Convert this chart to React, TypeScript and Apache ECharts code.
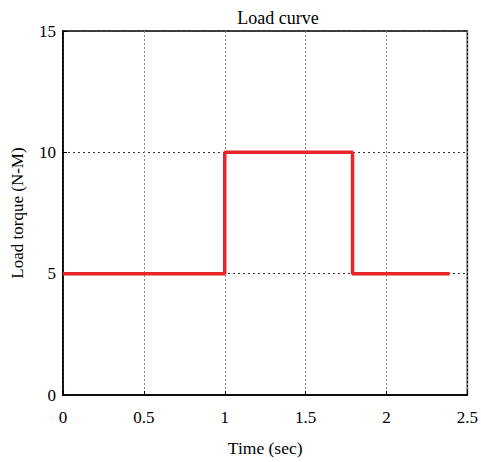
import React, { useEffect, useRef } from "react";
import * as echarts from "echarts";

const timeValues = [0, 1, 1, 1.79, 1.79, 2.39];
const torqueValues = [5, 5, 10, 10, 5, 5];
const titleText = "Load curve";
const xName = "Time (sec)";
const yName = "Load torque (N-M)";

export default function App() {
  const ref = useRef<HTMLDivElement>(null);
  useEffect(() => {
    document.body.style.margin = "0";
    document.body.style.overflow = "hidden";
    if (!ref.current) return;
    const chart = echarts.init(ref.current, undefined, { renderer: "svg" });
    const font = "'Liberation Serif', 'Times New Roman', serif";
    chart.setOption({
      animation: false,
      backgroundColor: "#fff",
      title: {
        text: titleText,
        left: 273,
        top: 4,
        textAlign: "center",
        textStyle: { fontFamily: font, fontSize: 18, fontWeight: "normal", color: "#000" },
      },
      grid: {
        left: 63,
        top: 31,
        right: 11,
        bottom: 63,
        show: true,
        borderColor: "#000",
        borderWidth: 1.5,
        containLabel: false,
      },
      xAxis: {
        type: "value",
        min: 0,
        max: 2.5,
        interval: 0.5,
        name: xName,
        nameLocation: "middle",
        nameGap: 44,
        nameTextStyle: { fontFamily: font, fontSize: 17.5, color: "#000" },
        axisLine: { show: true, lineStyle: { color: "#000", width: 1.5 } },
        axisTick: { show: true, inside: true, length: 4, lineStyle: { color: "#000" } },
        axisLabel: { fontFamily: font, fontSize: 17, color: "#000", margin: 14 },
        splitLine: { show: true, lineStyle: { color: "#888", type: [2, 2], width: 1 } },
      },
      yAxis: {
        type: "value",
        min: 0,
        max: 15,
        interval: 5,
        name: yName,
        nameLocation: "middle",
        nameGap: 37,
        nameTextStyle: { fontFamily: font, fontSize: 17, color: "#000" },
        axisLine: { show: true, lineStyle: { color: "#000", width: 1.5 } },
        axisTick: { show: true, inside: true, length: 4, lineStyle: { color: "#000" } },
        axisLabel: { fontFamily: font, fontSize: 17, color: "#000", margin: 7 },
        splitLine: { show: true, lineStyle: { color: "#333", type: [2, 3], width: 1 } },
      },
      series: [
        {
          type: "line",
          data: timeValues.map((t, i) => [t, torqueValues[i]]),
          showSymbol: false,
          lineStyle: { color: "#e8262a", width: 3.5 },
        },
      ],
    });
    return () => chart.dispose();
  }, []);
  return <div ref={ref} style={{ width: 481, height: 462 }} />;
}
